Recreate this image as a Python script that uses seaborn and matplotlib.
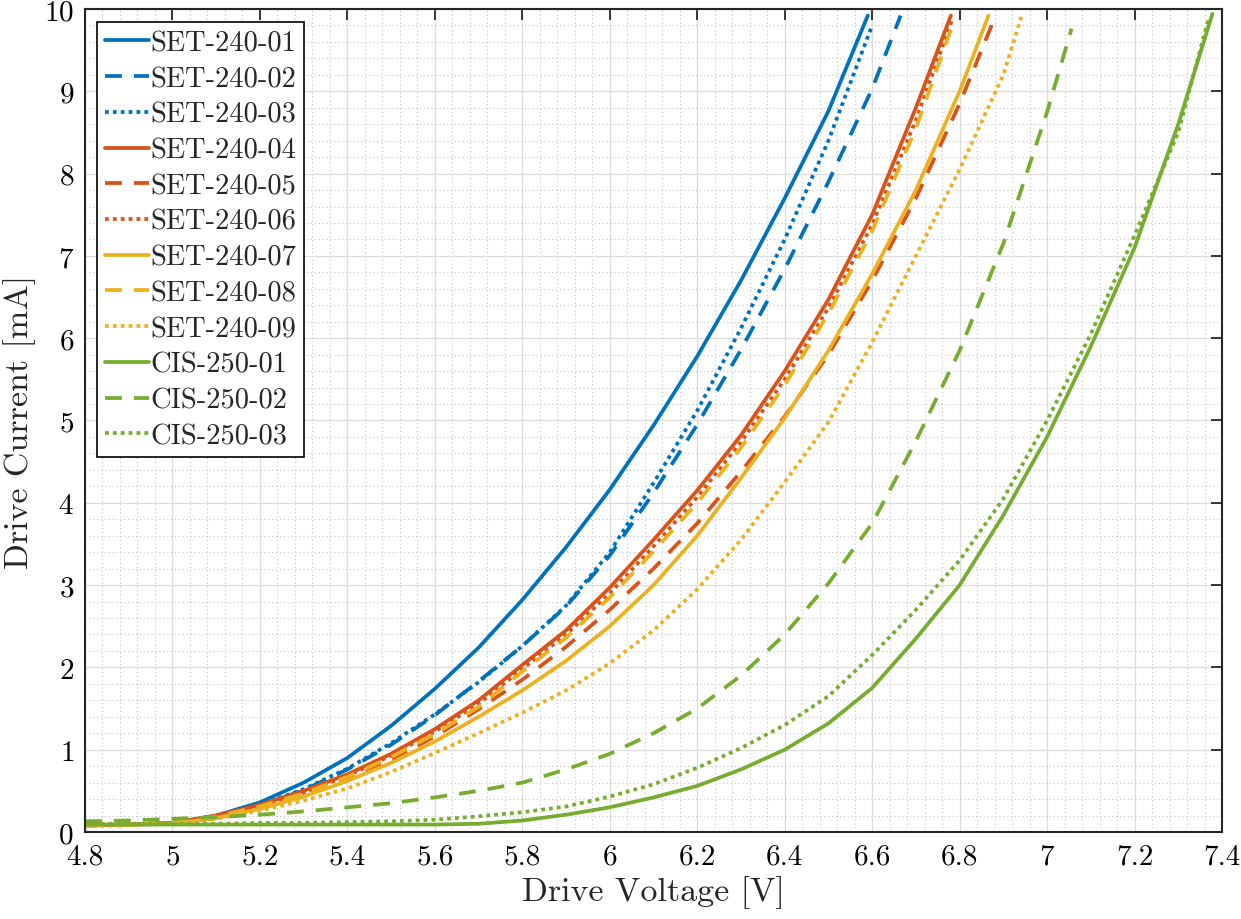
import matplotlib
matplotlib.use("Agg")
import matplotlib.pyplot as plt
from matplotlib.ticker import MultipleLocator
import seaborn as sns
import pandas as pd

# drive voltage [V] / drive current [mA]
v_set01 = [4.8, 4.9, 5.0, 5.1, 5.2, 5.3, 5.4, 5.5, 5.6, 5.7, 5.8, 5.9, 6.0, 6.1, 6.2, 6.3, 6.4, 6.5, 6.59]
i_set01 = [0.08, 0.09, 0.11, 0.20, 0.36, 0.60, 0.90, 1.29, 1.74, 2.24, 2.82, 3.46, 4.16, 4.94, 5.78, 6.70, 7.70, 8.76, 9.92]

v_set02 = [4.8, 4.9, 5.0, 5.1, 5.2, 5.3, 5.4, 5.5, 5.6, 5.7, 5.8, 5.9, 6.0, 6.1, 6.2, 6.3, 6.4, 6.5, 6.6, 6.665]
i_set02 = [0.08, 0.09, 0.11, 0.19, 0.32, 0.51, 0.76, 1.06, 1.42, 1.83, 2.26, 2.74, 3.36, 4.12, 4.95, 5.86, 6.84, 7.90, 9.03, 9.92]

v_set03 = [4.8, 4.9, 5.0, 5.1, 5.2, 5.3, 5.4, 5.5, 5.6, 5.7, 5.8, 5.9, 6.0, 6.1, 6.2, 6.3, 6.4, 6.5, 6.6]
i_set03 = [0.08, 0.09, 0.11, 0.19, 0.33, 0.52, 0.77, 1.08, 1.43, 1.82, 2.26, 2.75, 3.40, 4.24, 5.12, 6.12, 7.20, 8.40, 9.80]

v_set04 = [4.8, 4.9, 5.0, 5.1, 5.2, 5.3, 5.4, 5.5, 5.6, 5.7, 5.8, 5.9, 6.0, 6.1, 6.2, 6.3, 6.4, 6.5, 6.6, 6.7, 6.78]
i_set04 = [0.08, 0.09, 0.11, 0.20, 0.33, 0.50, 0.70, 0.95, 1.25, 1.60, 2.03, 2.45, 2.97, 3.55, 4.15, 4.82, 5.60, 6.47, 7.50, 8.80, 9.92]

v_set05 = [4.8, 4.9, 5.0, 5.1, 5.2, 5.3, 5.4, 5.5, 5.6, 5.7, 5.8, 5.9, 6.0, 6.1, 6.2, 6.3, 6.4, 6.5, 6.6, 6.7, 6.8, 6.877]
i_set05 = [0.08, 0.09, 0.10, 0.17, 0.29, 0.45, 0.64, 0.88, 1.16, 1.49, 1.85, 2.25, 2.70, 3.20, 3.75, 4.38, 5.05, 5.80, 6.70, 7.70, 8.85, 9.85]

v_set06 = [4.8, 4.9, 5.0, 5.1, 5.2, 5.3, 5.4, 5.5, 5.6, 5.7, 5.8, 5.9, 6.0, 6.1, 6.2, 6.3, 6.4, 6.5, 6.6, 6.7, 6.785]
i_set06 = [0.08, 0.09, 0.11, 0.19, 0.32, 0.48, 0.68, 0.93, 1.22, 1.56, 1.98, 2.40, 2.90, 3.47, 4.07, 4.74, 5.50, 6.37, 7.38, 8.65, 9.90]

v_set07 = [4.8, 4.9, 5.0, 5.1, 5.2, 5.3, 5.4, 5.5, 5.6, 5.7, 5.8, 5.9, 6.0, 6.1, 6.2, 6.3, 6.4, 6.5, 6.6, 6.7, 6.8, 6.866]
i_set07 = [0.09, 0.09, 0.10, 0.17, 0.28, 0.43, 0.62, 0.84, 1.10, 1.40, 1.72, 2.08, 2.50, 3.00, 3.60, 4.30, 5.03, 5.85, 6.78, 7.80, 9.00, 9.92]

v_set08 = [4.8, 4.9, 5.0, 5.1, 5.2, 5.3, 5.4, 5.5, 5.6, 5.7, 5.8, 5.9, 6.0, 6.1, 6.2, 6.3, 6.4, 6.5, 6.6, 6.7, 6.78]
i_set08 = [0.08, 0.09, 0.11, 0.19, 0.31, 0.47, 0.67, 0.91, 1.19, 1.52, 1.95, 2.36, 2.85, 3.41, 4.00, 4.67, 5.43, 6.30, 7.30, 8.55, 9.75]

v_set09 = [4.8, 4.9, 5.0, 5.1, 5.2, 5.3, 5.4, 5.5, 5.6, 5.7, 5.8, 5.9, 6.0, 6.1, 6.2, 6.3, 6.4, 6.5, 6.6, 6.7, 6.8, 6.9, 6.942]
i_set09 = [0.07, 0.08, 0.11, 0.16, 0.26, 0.38, 0.53, 0.73, 0.96, 1.20, 1.45, 1.72, 2.05, 2.45, 2.95, 3.55, 4.25, 4.98, 5.95, 7.00, 8.05, 9.20, 9.92]

v_cis01 = [4.8, 4.9, 5.0, 5.1, 5.2, 5.3, 5.4, 5.5, 5.6, 5.7, 5.8, 5.9, 6.0, 6.1, 6.2, 6.3, 6.4, 6.5, 6.6, 6.7, 6.8, 6.9, 7.0, 7.1, 7.2, 7.3, 7.378]
i_cis01 = [0.09, 0.09, 0.09, 0.09, 0.09, 0.09, 0.09, 0.09, 0.09, 0.10, 0.14, 0.21, 0.30, 0.42, 0.56, 0.76, 1.00, 1.32, 1.75, 2.35, 3.00, 3.85, 4.80, 5.90, 7.10, 8.60, 9.94]

v_cis02 = [4.8, 4.9, 5.0, 5.1, 5.2, 5.3, 5.4, 5.5, 5.6, 5.7, 5.8, 5.9, 6.0, 6.1, 6.2, 6.3, 6.4, 6.5, 6.6, 6.7, 6.8, 6.9, 7.0, 7.056]
i_cis02 = [0.13, 0.14, 0.16, 0.18, 0.21, 0.25, 0.30, 0.35, 0.42, 0.50, 0.60, 0.76, 0.95, 1.20, 1.50, 1.90, 2.40, 3.02, 3.75, 4.75, 5.85, 7.15, 8.75, 9.76]

v_cis03 = [4.8, 4.9, 5.0, 5.1, 5.2, 5.3, 5.4, 5.5, 5.6, 5.7, 5.8, 5.9, 6.0, 6.1, 6.2, 6.3, 6.4, 6.5, 6.6, 6.7, 6.8, 6.9, 7.0, 7.1, 7.2, 7.3, 7.37]
i_cis03 = [0.10, 0.10, 0.10, 0.10, 0.11, 0.11, 0.12, 0.13, 0.15, 0.19, 0.24, 0.31, 0.43, 0.58, 0.78, 1.02, 1.30, 1.65, 2.15, 2.70, 3.30, 4.05, 5.00, 6.05, 7.25, 8.50, 9.90]

labels = ["SET-240-01", "SET-240-02", "SET-240-03",
          "SET-240-04", "SET-240-05", "SET-240-06",
          "SET-240-07", "SET-240-08", "SET-240-09",
          "CIS-250-01", "CIS-250-02", "CIS-250-03"]
volts = [v_set01, v_set02, v_set03, v_set04, v_set05, v_set06,
         v_set07, v_set08, v_set09, v_cis01, v_cis02, v_cis03]
currents = [i_set01, i_set02, i_set03, i_set04, i_set05, i_set06,
            i_set07, i_set08, i_set09, i_cis01, i_cis02, i_cis03]

# matlab default colours, one per sample group
colors = ["#0072BD"] * 3 + ["#D95319"] * 3 + ["#EDB120"] * 3 + ["#77AC30"] * 3
styles = ["-", (0, (4.5, 3.2)), (0, (1, 1.1))] * 4

sns.set_style("white")
plt.rcParams["font.family"] = ["cmr10", "DejaVu Serif"]
plt.rcParams["axes.formatter.use_mathtext"] = True
plt.rcParams["mathtext.fontset"] = "cm"

fig = plt.figure(figsize=(12.41, 9.2), dpi=100)
ax = fig.add_axes([85 / 1241, 1 - 833 / 920, (1222 - 85) / 1241, (833 - 10) / 920])

for lab, v, i, c, ls in zip(labels, volts, currents, colors, styles):
    df = pd.DataFrame({"V": v, "I": i})
    sns.lineplot(data=df, x="V", y="I", ax=ax, color=c, linestyle=ls,
                 linewidth=2.7, label=lab, estimator=None, sort=False,
                 dash_capstyle="butt", solid_joinstyle="round")

ax.set_xlim(4.8, 7.4)
ax.set_ylim(0, 10)
ax.xaxis.set_major_locator(MultipleLocator(0.2))
ax.xaxis.set_minor_locator(MultipleLocator(0.04))
ax.yaxis.set_major_locator(MultipleLocator(1))
ax.yaxis.set_minor_locator(MultipleLocator(0.2))
ax.set_xticklabels([f"{t:g}" for t in ax.get_xticks()])

ax.set_axisbelow(True)
ax.grid(which="major", color="#dcdcdc", linewidth=0.9, linestyle="-")
ax.grid(which="minor", color="#c4c4c4", linewidth=0.8, linestyle=(0, (1, 2.5)))

ax.tick_params(which="major", direction="in", length=8, width=1.3, color="#262626",
               top=True, right=True, labelsize=21, pad=8, labelcolor="black")
ax.tick_params(which="minor", length=0)
for sp in ax.spines.values():
    sp.set_color("#262626")
    sp.set_linewidth(1.5)

ax.set_xlabel("Drive Voltage [V]", fontsize=24.5, labelpad=4)
ax.set_ylabel("Drive Current [mA]", fontsize=24.5, labelpad=6)

leg = ax.legend(loc="upper left", bbox_to_anchor=(12 / 1137, 1 - 13 / 823),
                borderaxespad=0, fontsize=20.5, frameon=True, fancybox=False,
                edgecolor="black", framealpha=1, handlelength=1.55,
                handletextpad=0.05, labelspacing=0.33, borderpad=0.28)
leg.get_frame().set_linewidth(1.2)

fig.savefig("out.png", dpi=100)
